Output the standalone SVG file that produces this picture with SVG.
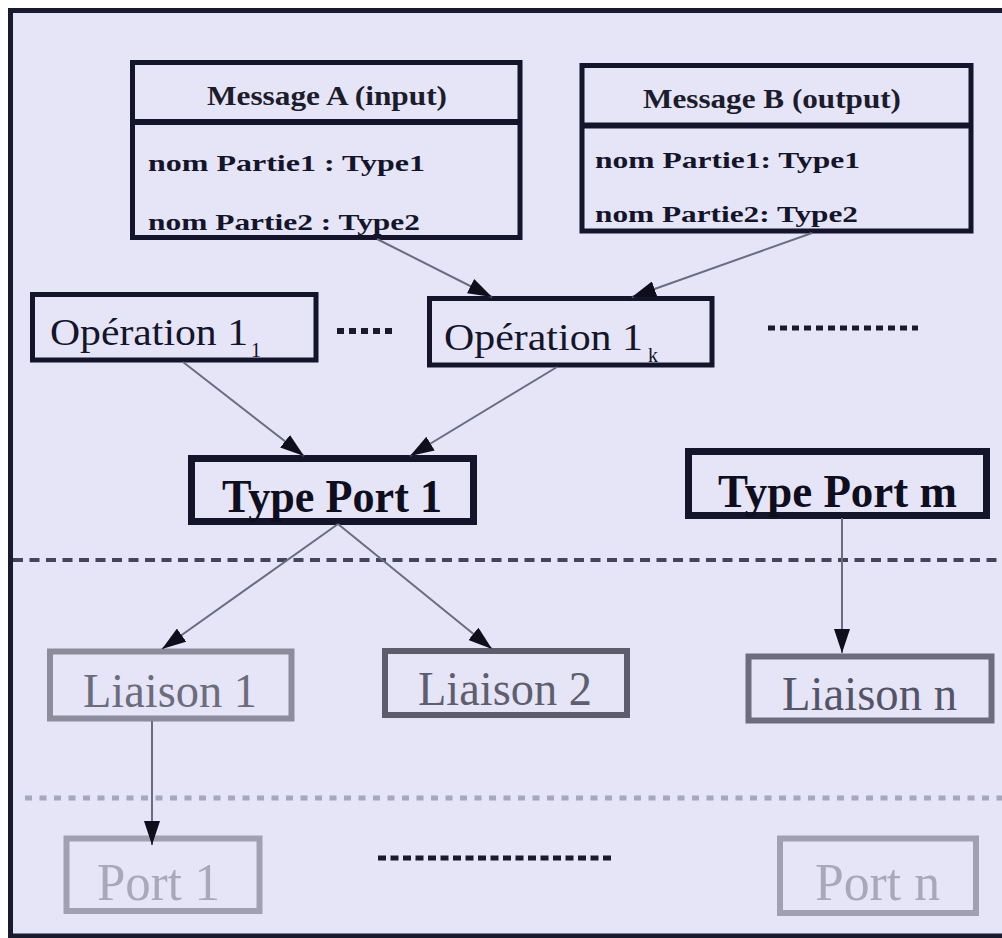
<svg xmlns="http://www.w3.org/2000/svg" width="1002" height="938" viewBox="0 0 1002 938">
  <defs>
    <style>
      text { font-family: "Liberation Serif", "Times New Roman", serif; }
      .box { fill: #e5e5f7; stroke: #14142a; stroke-width: 5; }
      .thick { stroke-width: 7; }
      .b-lia1 { stroke: #8c8c9c; stroke-width: 6; }
      .b-lia2 { stroke: #5c5c6c; stroke-width: 6; }
      .b-lian { stroke: #6c6c7c; stroke-width: 6; }
      .b-port { stroke: #a0a0b0; stroke-width: 6; }
      .hdr { font-size: 28px; font-weight: bold; fill: #1c1c2c; }
      .part { font-size: 24px; font-weight: bold; fill: #14142a; }
      .op { font-size: 38px; fill: #14142a; }
      .sub { font-size: 20px; fill: #14142a; }
      .tp { font-size: 46px; font-weight: bold; fill: #0e0e1e; }
      .lia { font-size: 49px; }
      .prt { font-size: 52px; fill: #a8a8b8; }
      .conn { stroke: #6c6c80; stroke-width: 2; fill: none; marker-end: url(#arrow); }
      .dots { stroke: #1a1a2a; fill: none; }
    </style>
    <marker id="arrow" markerUnits="userSpaceOnUse" markerWidth="24" markerHeight="16" refX="24" refY="8" orient="auto">
      <path d="M0,0 L24,8 L0,16 z" fill="#0e0e1c"/>
    </marker>
  </defs>

  <!-- page background and frame (open on the right) -->
  <rect x="0" y="0" width="1002" height="938" fill="#ffffff"/>
  <rect x="10" y="10" width="992" height="928" fill="#e5e5f7"/>
  <path d="M1002,10.5 H10.5 V936 H1002" fill="none" stroke="#1a1a2e" stroke-width="5"/>

  <!-- layer separators -->
  <line x1="13" y1="560" x2="1002" y2="560" stroke="#44445a" stroke-width="4" stroke-dasharray="10 6.5"/>
  <line x1="25" y1="798" x2="1002" y2="798" stroke="#a8a8bc" stroke-width="5" stroke-dasharray="7 7.5"/>

  <!-- ellipsis marks -->
  <line class="dots" x1="337" y1="331" x2="396" y2="331" stroke-width="6" stroke-dasharray="7 5"/>
  <line class="dots" x1="768" y1="328" x2="918" y2="328" stroke-width="5" stroke-dasharray="7 5"/>
  <line class="dots" x1="378" y1="858" x2="612" y2="858" stroke-width="5" stroke-dasharray="8 4.5"/>

  <!-- messages -->
  <g id="message-a">
    <rect class="box" x="132.5" y="62.5" width="387.5" height="175"/>
    <line x1="132" y1="122" x2="520" y2="122" stroke="#14142a" stroke-width="6"/>
    <text class="hdr" x="207" y="105" textLength="240" lengthAdjust="spacingAndGlyphs">Message A (input)</text>
    <text class="part" x="148" y="171" textLength="277" lengthAdjust="spacingAndGlyphs">nom Partie1 : Type1</text>
    <text class="part" x="148" y="230" textLength="272" lengthAdjust="spacingAndGlyphs">nom Partie2 : Type2</text>
  </g>
  <g id="message-b">
    <rect class="box" x="582" y="65.5" width="389" height="165.5"/>
    <line x1="582" y1="125.5" x2="971" y2="125.5" stroke="#14142a" stroke-width="6"/>
    <text class="hdr" x="643" y="108" textLength="258" lengthAdjust="spacingAndGlyphs">Message B (output)</text>
    <text class="part" x="595" y="168" textLength="265" lengthAdjust="spacingAndGlyphs">nom Partie1: Type1</text>
    <text class="part" x="595" y="222" textLength="263" lengthAdjust="spacingAndGlyphs">nom Partie2: Type2</text>
  </g>

  <!-- operations -->
  <g id="operation-1-1">
    <rect class="box" x="32.5" y="294.5" width="283.5" height="65.5"/>
    <text class="op" x="50" y="345" textLength="198" lengthAdjust="spacingAndGlyphs">Opération 1</text>
    <text class="sub" x="251" y="357">1</text>
  </g>
  <g id="operation-1-k">
    <rect class="box" x="429.5" y="298.5" width="282.5" height="66.5"/>
    <text class="op" x="444" y="350" textLength="199" lengthAdjust="spacingAndGlyphs">Opération 1</text>
    <text class="sub" x="648" y="362">k</text>
  </g>

  <!-- port types -->
  <g id="type-port-1">
    <rect class="box thick" x="191.5" y="458.5" width="282" height="63"/>
    <text class="tp" x="222" y="512" textLength="220" lengthAdjust="spacingAndGlyphs">Type Port 1</text>
  </g>
  <g id="type-port-m">
    <rect class="box thick" x="688.5" y="451.5" width="298" height="64"/>
    <text class="tp" x="718" y="507" textLength="239" lengthAdjust="spacingAndGlyphs">Type Port m</text>
  </g>

  <!-- bindings -->
  <g id="liaison-1">
    <rect class="box b-lia1" x="50" y="651.5" width="241.5" height="67"/>
    <text class="lia" x="83" y="707" fill="#6c6c7c" textLength="174" lengthAdjust="spacingAndGlyphs">Liaison 1</text>
  </g>
  <g id="liaison-2">
    <rect class="box b-lia2" x="385" y="651" width="242" height="64"/>
    <text class="lia" x="418" y="705" fill="#5e5e6e" textLength="174" lengthAdjust="spacingAndGlyphs">Liaison 2</text>
  </g>
  <g id="liaison-n">
    <rect class="box b-lian" x="748.5" y="656.5" width="243" height="64"/>
    <text class="lia" x="782" y="710" fill="#545466" textLength="175" lengthAdjust="spacingAndGlyphs">Liaison n</text>
  </g>

  <!-- ports -->
  <g id="port-1">
    <rect class="box b-port" x="66.5" y="838.5" width="193" height="72.5"/>
    <text class="prt" x="97" y="900" textLength="123" lengthAdjust="spacingAndGlyphs">Port 1</text>
  </g>
  <g id="port-n">
    <rect class="box b-port" x="780" y="838.5" width="196" height="74.5"/>
    <text class="prt" x="815" y="900" textLength="125" lengthAdjust="spacingAndGlyphs">Port n</text>
  </g>

  <!-- connectors -->
  <g id="connectors">
    <line class="conn" x1="377" y1="239" x2="492" y2="297"/>
    <line class="conn" x1="812" y1="233" x2="632" y2="297"/>
    <line class="conn" x1="183" y1="362" x2="304" y2="456"/>
    <line class="conn" x1="557" y1="367" x2="410" y2="456"/>
    <line class="conn" x1="338" y1="524" x2="162" y2="649"/>
    <line class="conn" x1="338" y1="524" x2="492" y2="649"/>
    <line class="conn" x1="842" y1="518" x2="842" y2="653"/>
    <line class="conn" x1="152" y1="721" x2="152" y2="845"/>
  </g>
</svg>
